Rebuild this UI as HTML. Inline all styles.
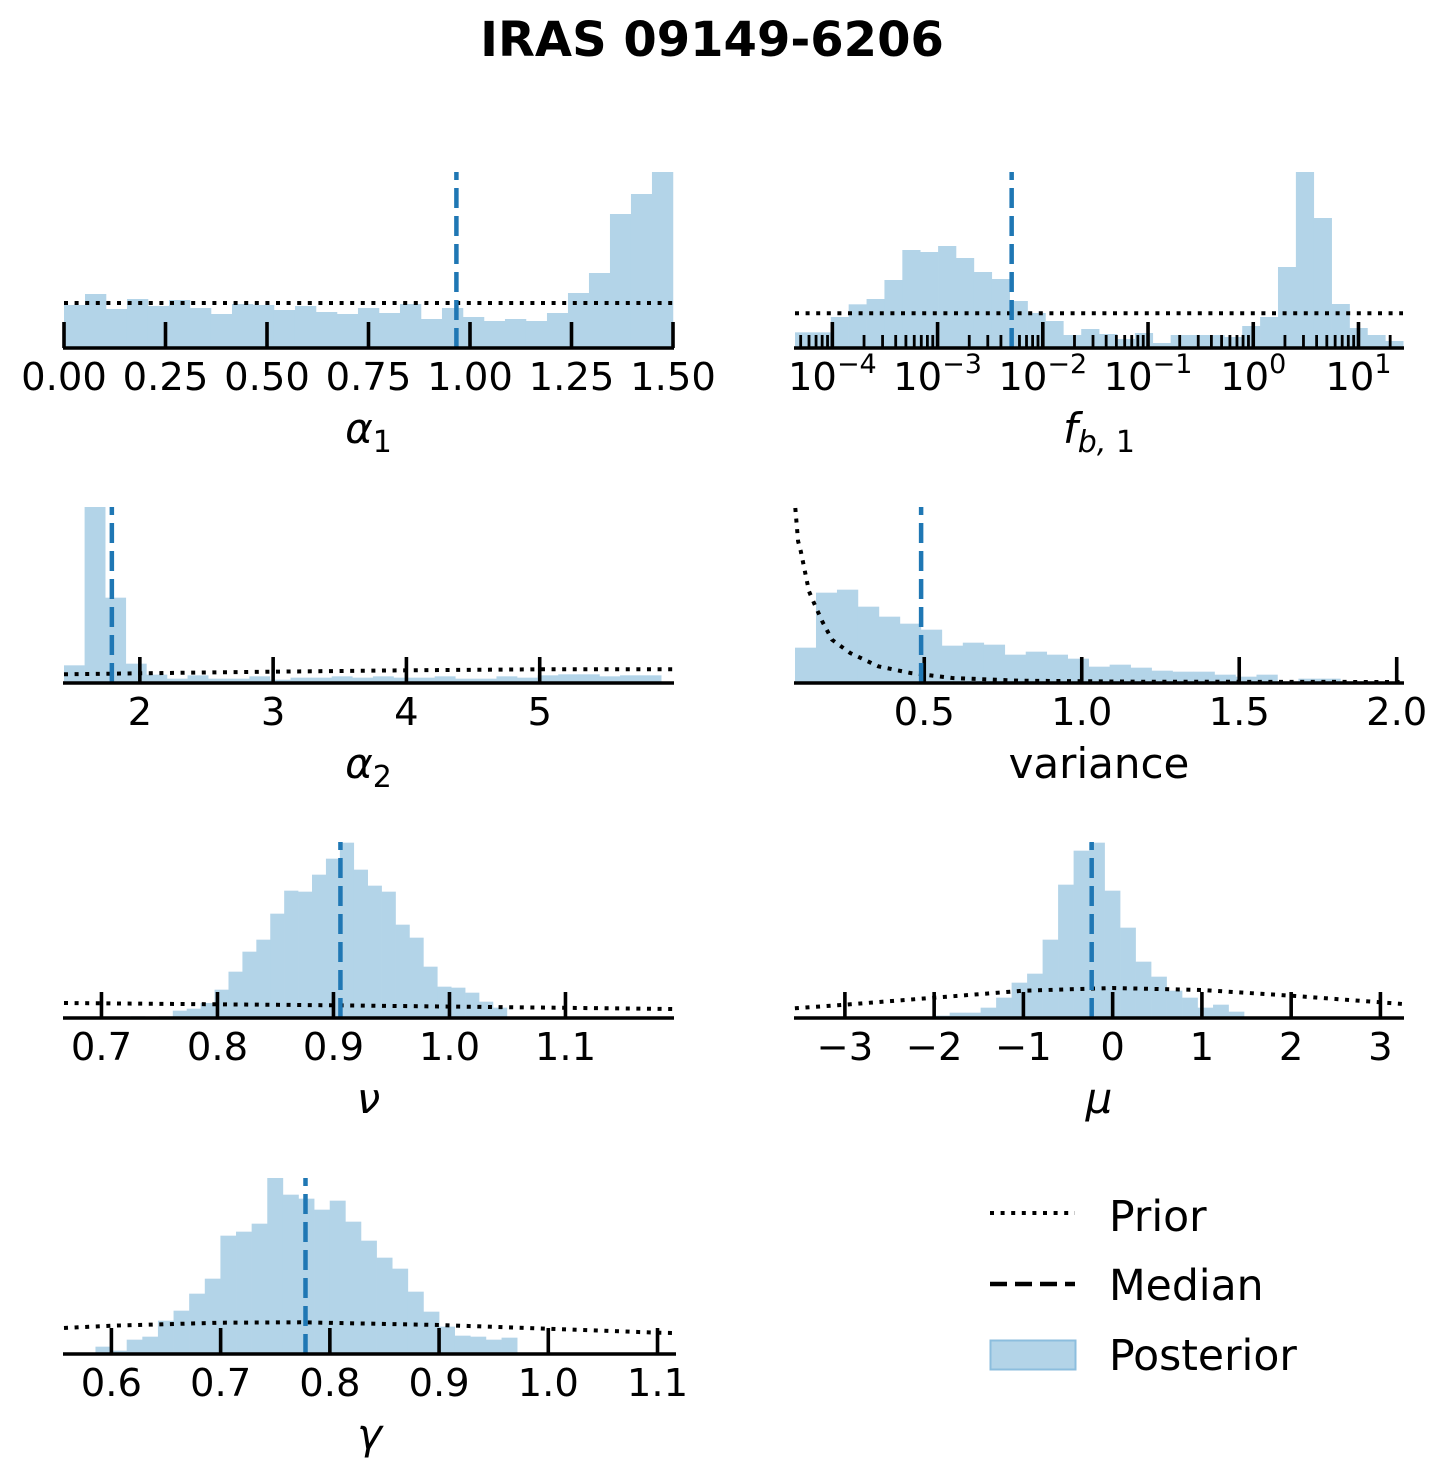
<!DOCTYPE html>
<html><head><meta charset="utf-8"><title>IRAS 09149-6206 posteriors</title>
<style>
html,body{margin:0;padding:0;background:#fff;}
svg{display:block;font-family:"DejaVu Sans","Liberation Sans",sans-serif;}
</style></head>
<body>
<svg id="fig" width="1449" height="1476" viewBox="0 0 1449 1476" xmlns="http://www.w3.org/2000/svg">
<text x="712" y="56" text-anchor="middle" font-size="48" font-weight="bold">IRAS 09149-6206</text>
<g id="panels"></g>
<g>
  <line x1="990" y1="1213" x2="1075" y2="1213" stroke="#000" stroke-width="4" stroke-dasharray="4 6.6"/>
  <text x="1109" y="1231" font-size="42.5">Prior</text>
  <line x1="990" y1="1284" x2="1075" y2="1284" stroke="#000" stroke-width="4.5" stroke-dasharray="17 8"/>
  <text x="1109" y="1300" font-size="42.5">Median</text>
  <rect x="990.5" y="1340.5" width="85" height="29" fill="rgb(179,212,232)" stroke="rgb(140,190,222)" stroke-width="2"/>
  <text x="1109" y="1370" font-size="42.5">Posterior</text>
</g>
</svg>
<script>
// ---- data ----
const a1Counts=[129,162,117,147,126,144,120,102,132,129,114,126,108,102,120,105,132,87,120,93,81,87,81,105,165,225,402,462,531];
const a1Bin=[0,0.05172];
const a1PriorX=[0,1.5];
const a1PriorY=[135,135];
const a1Median=0.9665;
const a1Ticks=[0,0.25,0.5,0.75,1.0,1.25,1.5];
const a1TickLabels=["0.00","0.25","0.50","0.75","1.00","1.25","1.50"];

const fbCounts=[47,47,93,131,147,204,294,288,306,270,228,207,141,105,81,39,57,42,27,45,15,39,39,39,33,66,93,243,531,390,132,60,39,21];
const fbBin=[-4.355,0.170];
const fbPriorX=[-4.355,1.423];
const fbPriorY=[104,104];
const fbMedianLog=-2.296;
const fbTicksExp=[-4,-3,-2,-1,0,1];
const fbTickLabels=["−4","−3","−2","−1","0","1"];

const a2Counts=[53,530,256,58,25,13,23,13,13,20,10,16,16,20,16,20,16,16,20,13,13,20,16,23,26,26,20,23,23];
const a2Bin=[1.431,0.1545];
const a2PriorX=[1.431,2,3,4,5,6];
const a2PriorY=[26,29,34,38,41,41];
const a2Median=1.79;
const a2Ticks=[2,3,4,5];
const a2TickLabels=["2","3","4","5"];

const varCounts=[106,271,280,229,199,178,160,112,121,115,85,94,85,73,49,55,46,37,34,34,25,19,25,5,13,13,5,5,3];
const varBin=[0.0896,0.0666];
const varPriorX=[0.0906,0.0995,0.108,0.121,0.134,0.150,0.176,0.207,0.265,0.354,0.456,0.589,0.805,1.187,2.02];
const varPriorY=[525,425,395,335,275,240,185,130,90,50,30,15,7,4,3];
const varMedian=0.49;
const varTicks=[0.5,1.0,1.5,2.0];
const varTickLabels=["0.5","1.0","1.5","2.0"];

const nuCounts=[5,0,5,22,28,45,85,139,199,235,313,382,379,430,478,526,445,397,379,280,241,154,94,91,76,49,31];
const nuBin=[0.7255,0.012];
const nuPriorX=[0.6677,0.9,1.1927];
const nuPriorY=[45,38,27];
const nuMedian=0.906;
const nuTicks=[0.7,0.8,0.9,1.0,1.1];
const nuTickLabels=["0.7","0.8","0.9","1.0","1.1"];

const muCounts=[7,16,16,31,61,106,133,235,400,502,526,382,271,169,124,82,61,31,40,19];
const muBin=[-2.0,0.1736];
const muPriorX=[-3.56,-3,-2,-1,0,1,2,3,3.25];
const muPriorY=[29,40,61,82,90,84,67,47,42];
const muMedian=-0.235;
const muTicks=[-3,-2,-1,0,1,2,3];
const muTickLabels=["−3","−2","−1","0","1","2","3"];

const gaCounts=[22,10,43,52,100,130,181,226,355,367,391,529,478,466,433,460,397,340,289,256,187,127,82,55,52,43,49];
const gaBin=[0.5854,0.0143];
const gaPriorX=[0.5566,0.6,0.7,0.7735,0.9,1.0,1.1,1.116];
const gaPriorY=[78,85,94,95,87,76,64,63];
const gaMedian=0.7777;
const gaTicks=[0.6,0.7,0.8,0.9,1.0,1.1];
const gaTickLabels=["0.6","0.7","0.8","0.9","1.0","1.1"];

// ---- drawing ----
const NS="http://www.w3.org/2000/svg";
const root=document.getElementById('panels');
function mk(tag,attrs,parent){const e=document.createElementNS(NS,tag);for(const k in attrs)e.setAttribute(k,attrs[k]);(parent||root).appendChild(e);return e;}
const H=176;
function yScale(base){return v=>base - Math.min(v*H/528, H);}

function panel(o){
  const g=mk('g',{});
  
  
  const xs=v=>o.x0+(v-o.d0)/(o.d1-o.d0)*(o.x1-o.x0);
  const ys=yScale(o.base);
  const hg=mk('g',{},g);
  
  
  o.counts.forEach((c,i)=>{
    const lo=o.bin[0]+i*o.bin[1], hi=lo+o.bin[1];
    const xa=xs(lo), xb=xs(hi), yt=ys(c);
    const r=mk('rect',{x:xa,y:yt,width:Math.max(0,xb-xa+0.3),height:o.base-yt,fill:'rgb(179,212,232)'},hg);
    
    
  });
  const pts=o.priorX.map((v,i)=>xs(v).toFixed(1)+','+ys(o.priorY[i]).toFixed(1)).join(' ');
  const pl=mk('polyline',{points:pts,fill:'none',stroke:'#000','stroke-width':4,'stroke-dasharray':'4 6.6'},g);
  
  
  o.ticks.forEach((t,i)=>{
    const x=xs(t);
    const tl=mk('line',{x1:x,y1:o.base,x2:x,y2:o.base-26,stroke:'#000','stroke-width':3.6},g);
    
    
    const tx=mk('text',{x:x,y:o.base+42,'font-size':38.5,'text-anchor':'middle'},g);
    
    
    if(o.log){
      const s1=mk('tspan',{},tx);s1.textContent='10';
      const s2=mk('tspan',{dy:-17,'font-size':27},tx);s2.textContent=o.tickLabels[i];
    } else {
      tx.textContent=o.tickLabels[i];
    }
  });
  if(o.minor){
    o.minor.forEach(t=>{
      const x=xs(t);
      const ml=mk('line',{x1:x,y1:o.base,x2:x,y2:o.base-13,stroke:'#000','stroke-width':2.8},g);
      
      
    });
  }
  const mx=xs(o.median);
  const md=mk('line',{x1:mx,y1:o.base,x2:mx,y2:o.base-H,stroke:'#1f77b4','stroke-width':4.5,'stroke-dasharray':'20 8'},g);
  
  
  const ax=mk('line',{x1:o.x0-1,y1:o.base,x2:o.x1+1,y2:o.base,stroke:'#000','stroke-width':3.6},g);
  
  
  const lb=mk('text',{x:(o.x0+o.x1)/2,y:o.base+95,'font-size':42,'text-anchor':'middle'},g);
  
  
  const m=mk('tspan',{'font-style':o.italic?'italic':'normal'},lb);m.textContent=o.label;
  if(o.sub){
    const s=mk('tspan',{dy:9,'font-size':30,'font-style':o.subItalic?'italic':'normal'},lb);s.textContent=o.sub;
    if(o.sub2){const s2=mk('tspan',{'font-size':30},lb);s2.textContent=o.sub2;}
  }
}

panel({name:'alpha1',x0:64,x1:673,d0:0,d1:1.5,base:348,counts:a1Counts,bin:a1Bin,priorX:a1PriorX,priorY:a1PriorY,median:a1Median,ticks:a1Ticks,tickLabels:a1TickLabels,label:'α',sub:'1',italic:true});

const fbMinor=[];
for(let e=-5;e<=1;e++){for(let j=2;j<=9;j++){const l=e+Math.log10(j);if(l>-4.355&&l<1.423)fbMinor.push(l);}}
panel({name:'fb1',x0:795,x1:1403,d0:-4.355,d1:1.423,base:348,counts:fbCounts,bin:fbBin,priorX:fbPriorX,priorY:fbPriorY,median:fbMedianLog,ticks:fbTicksExp,tickLabels:fbTickLabels,log:true,minor:fbMinor,label:'f',sub:'b,',sub2:' 1',italic:true,subItalic:true});

panel({name:'alpha2',x0:64,x1:673,d0:1.431,d1:6.0,base:683,counts:a2Counts,bin:a2Bin,priorX:a2PriorX,priorY:a2PriorY,median:a2Median,ticks:a2Ticks,tickLabels:a2TickLabels,label:'α',sub:'2',italic:true});

panel({name:'variance',x0:795,x1:1403,d0:0.0896,d1:2.02,base:683,counts:varCounts,bin:varBin,priorX:varPriorX,priorY:varPriorY,median:varMedian,ticks:varTicks,tickLabels:varTickLabels,label:'variance',italic:false});

panel({name:'nu',x0:64,x1:673,d0:0.6677,d1:1.1927,base:1018,counts:nuCounts,bin:nuBin,priorX:nuPriorX,priorY:nuPriorY,median:nuMedian,ticks:nuTicks,tickLabels:nuTickLabels,label:'ν',italic:true});

panel({name:'mu',x0:795,x1:1403,d0:-3.559,d1:3.253,base:1018,counts:muCounts,bin:muBin,priorX:muPriorX,priorY:muPriorY,median:muMedian,ticks:muTicks,tickLabels:muTickLabels,label:'μ',italic:true});

panel({name:'gamma',x0:64,x1:675,d0:0.5566,d1:1.116,base:1354,counts:gaCounts,bin:gaBin,priorX:gaPriorX,priorY:gaPriorY,median:gaMedian,ticks:gaTicks,tickLabels:gaTickLabels,label:'γ',italic:true});
</script>
</body></html>
